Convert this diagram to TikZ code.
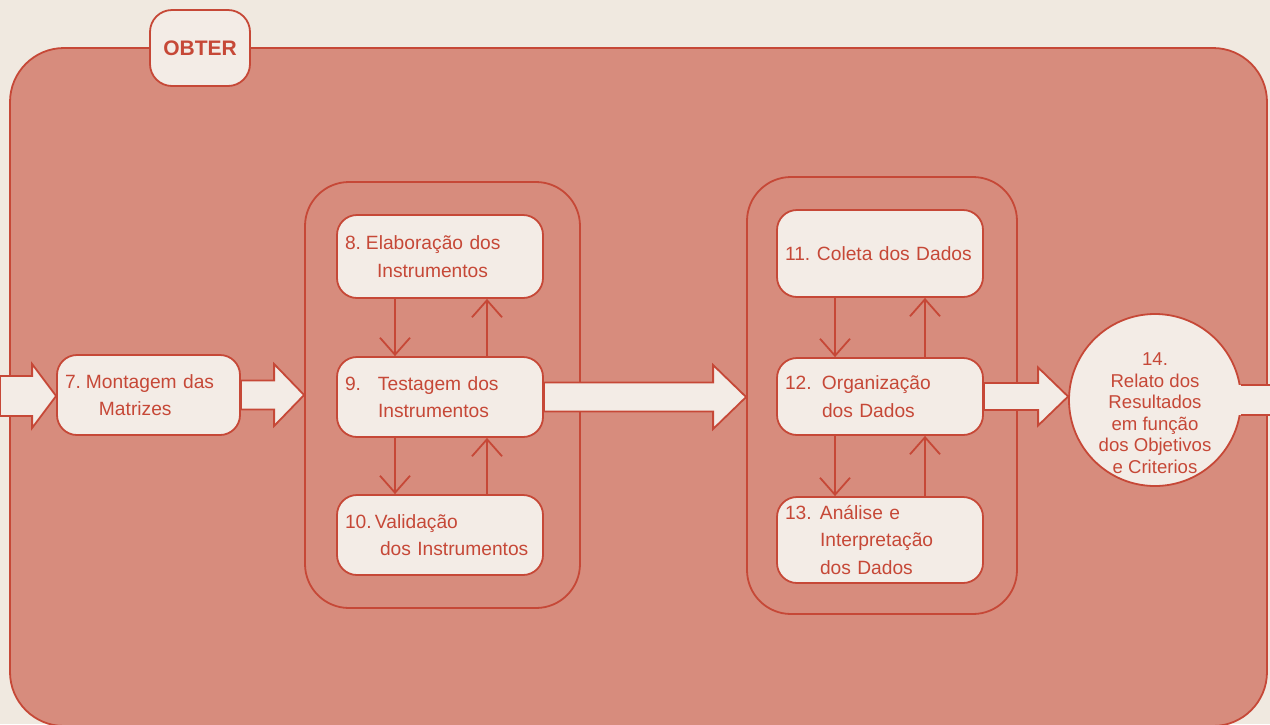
\documentclass[tikz,border=0pt]{standalone}
\usepackage{fontspec}
\setmainfont{Liberation Sans}
\usetikzlibrary{arrows.meta,calc}

\definecolor{paper}{RGB}{240,233,224}
\definecolor{panel}{RGB}{215,140,125}
\definecolor{ink}{RGB}{198,72,55}
\definecolor{cardfill}{RGB}{243,236,230}

% horizontal block arrow: #1 start, #2 tip, #3 shaft half-height, #4 head half-height, #5 head length
\newcommand\blockarrow[5]{%
  \path[blockarrow] let \p1=(#1), \p2=(#2) in
    (\x1,\y1+#3) -- (\x2-#5,\y1+#3) -- (\x2-#5,\y1+#4) -- (\x2,\y1)
    -- (\x2-#5,\y1-#4) -- (\x2-#5,\y1-#3) -- (\x1,\y1-#3) -- cycle;}

\tikzset{
  outline/.style={draw=ink, line width=0.9pt},
  group/.style={outline, rectangle, rounded corners=22pt},
  card/.style={outline, fill=cardfill, rectangle, rounded corners=10pt,
    text=ink, align=left, inner xsep=4pt, inner ysep=0pt,
    font=\fontsize{9.6}{13.75}\selectfont},
  blockarrow/.style={outline, fill=cardfill, line join=miter},
  flow/.style={draw=ink, line width=0.9pt, -{Straight Barb[length=8.5pt,width=15pt,line width=0.9pt]}},
}

\begin{document}
\begin{tikzpicture}[x=0.5pt, y=-0.5pt]
  % paper and frame
  \fill[paper] (0,0) rectangle (1270,724);
  \useasboundingbox (0,0) rectangle (1270,724);
  \draw[outline, fill=panel, rounded corners=27pt] (10,48) rectangle (1267,726);

  % phase tab
  \node[card, rounded corners=11pt, minimum width=50pt, minimum height=38pt,
        align=center, inner xsep=0pt, font=\fontsize{10.5}{12}\selectfont\bfseries]
        (obter) at (200,48) {OBTER};

  % groups
  \node[group, minimum width=137.5pt, minimum height=213pt] (g1) at (442.5,395) {};
  \node[group, minimum width=135pt, minimum height=218.5pt] (g2) at (882,395.5) {};

  % steps
  \node[card, minimum width=91.5pt, text width=83.5pt, minimum height=40pt] (b7) at (148.5,395)
    {\mbox{\makebox[10.5pt][l]{7.}Montagem das}\\\hspace*{17pt}Matrizes};

  \node[card, minimum width=103pt, text width=95pt, minimum height=41.5pt] (b8) at (440,256.5)
    {\mbox{\makebox[10.5pt][l]{8.}Elaboração dos}\\\hspace*{16pt}Instrumentos};
  \node[card, minimum width=103pt, text width=95pt, minimum height=40pt] (b9) at (440,397)
    {\mbox{\makebox[16.5pt][l]{9.}Testagem dos}\\\hspace*{16.5pt}Instrumentos};
  \node[card, minimum width=103pt, text width=95pt, minimum height=40pt] (b10) at (440,535)
    {\mbox{\makebox[15pt][l]{10.}Validação}\\\hspace*{17.5pt}\mbox{dos Instrumentos}};

  \node[card, minimum width=103pt, text width=95pt, minimum height=43.5pt] (b11) at (880,253.5)
    {\mbox{\makebox[16pt][l]{11.}Coleta dos Dados}};
  \node[card, minimum width=103pt, text width=95pt, minimum height=38.5pt] (b12) at (880,396.5)
    {\mbox{\makebox[18.5pt][l]{12.}Organização}\\\hspace*{18.5pt}dos Dados};
  \node[card, minimum width=103pt, text width=95pt, minimum height=43pt] (b13) at (880,540)
    {\mbox{\makebox[17.5pt][l]{13.}Análise e}\\\hspace*{17.5pt}Interpretação\\\hspace*{17.5pt}dos Dados};

  \node[outline, fill=cardfill, circle, minimum size=86pt, inner sep=0pt] (c14) at (1155,400) {};
  \node[text=ink, align=center, font=\fontsize{9.3}{10.75}\selectfont] (t14) at (1155,413)
    {14.\\Relato dos\\Resultados\\em função\\dos Objetivos\\e Criterios};

  % loose ends of the flow
  \coordinate (in) at (0,396);
  \coordinate (out) at (1272,400);

  % block arrows
  \blockarrow{in}{b7.west}{10pt}{16pt}{12pt}
  \blockarrow{b7.east}{g1.west}{7.25pt}{15.5pt}{15pt}
  \blockarrow{b9.east}{g2.west}{7.25pt}{16pt}{16.5pt}
  \blockarrow{b12.east}{c14.west}{6.75pt}{14.5pt}{15pt}
  \fill[cardfill] ($(c14.east)+(-4,-15)$) rectangle ($(out)+(0,15)$);
  \draw[outline] ($(c14.east)+(-1,-15)$) -- ($(out)+(0,-15)$)
                 ($(c14.east)+(-1,15)$) -- ($(out)+(0,15)$);

  % feedback between steps
  \draw[flow] ($(b8.south)+(-45,0)$) -- ($(b9.north)+(-45,0)$);
  \draw[flow] ($(b9.north)+(47,0)$) -- ($(b8.south)+(47,0)$);
  \draw[flow] ($(b9.south)+(-45,0)$) -- ($(b10.north)+(-45,0)$);
  \draw[flow] ($(b10.north)+(47,0)$) -- ($(b9.south)+(47,0)$);

  \draw[flow] ($(b11.south)+(-45,0)$) -- ($(b12.north)+(-45,0)$);
  \draw[flow] ($(b12.north)+(45,0)$) -- ($(b11.south)+(45,0)$);
  \draw[flow] ($(b12.south)+(-45,0)$) -- ($(b13.north)+(-45,0)$);
  \draw[flow] ($(b13.north)+(45,0)$) -- ($(b12.south)+(45,0)$);
\end{tikzpicture}
\end{document}
